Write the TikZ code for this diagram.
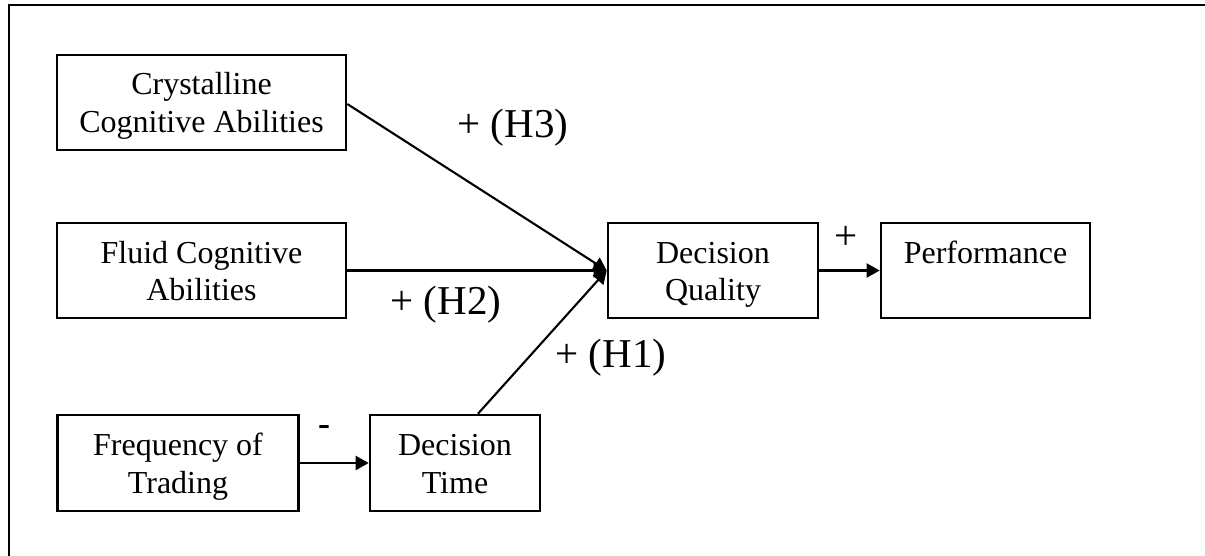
\documentclass[tikz,border=0pt]{standalone}
\usepackage{fontspec}
\setmainfont{Liberation Serif}
\usetikzlibrary{arrows.meta}
\newcommand\topstr{\rule{0pt}{34pt}}
\newcommand\botstr{\rule[-11.5pt]{0pt}{11.5pt}}
\begin{document}
\begin{tikzpicture}[x=1pt,y=-1pt,
  box/.style={draw,line width=2.6pt,rectangle,align=center,inner sep=0pt,
    font=\fontsize{32}{37.5}\selectfont},
  conn/.style={line width=2.1pt,-{Triangle[length=13pt,width=14pt]}},
  lab/.style={inner sep=0pt,font=\fontsize{41}{48}\selectfont},
  frame/.style={line width=2.2pt}]
\useasboundingbox (0,0) rectangle (1205,556);
\coordinate (fa) at (9,556);
\coordinate (fb) at (9,5);
\coordinate (fc) at (1205,5);
\draw[frame] (fa) -- (fb) -- (fc);
\node[box,minimum width=289pt,minimum height=95pt] (cry) at (201.5,102.5) {\topstr Crystalline\\Cognitive Abilities\botstr};
\node[box,minimum width=289pt,minimum height=95pt] (flu) at (201.5,270.5) {\topstr Fluid Cognitive\\Abilities\botstr};
\node[box,minimum width=241pt,minimum height=96pt] (freq) at (178,463) {\topstr Frequency of\\Trading\botstr};
\node[box,minimum width=170pt,minimum height=96pt] (dt) at (455,463) {\topstr Decision\\Time\botstr};
\node[box,minimum width=210pt,minimum height=95pt] (dq) at (713,270.5) {\topstr Decision\\Quality\botstr};
\node[box,minimum width=209pt,minimum height=95pt] (perf) at (985.5,270.5) {\topstr Performance\\\phantom{Quality}\botstr};
\draw[conn] (cry.east |- 0,104) -- (dq.west);
\draw[conn] (flu.east) -- (dq.west);
\draw[conn] (dt.north -| 478,0) -- (dq.west);
\draw[conn] (freq.east |- 0,463) -- (dt.west |- 0,463);
\draw[conn] (dq.east) -- (perf.west);
\node[lab] (h3) at (513,128) {+ (H3)};
\node[lab] (h2) at (446,305) {+ (H2)};
\node[lab] (h1) at (611,358) {+ (H1)};
\node[lab] (plus) at (846,238) {+};
\node[inner sep=0pt,font=\fontsize{36}{40}\selectfont\bfseries] (minus) at (324,430) {-};
\end{tikzpicture}
\end{document}
